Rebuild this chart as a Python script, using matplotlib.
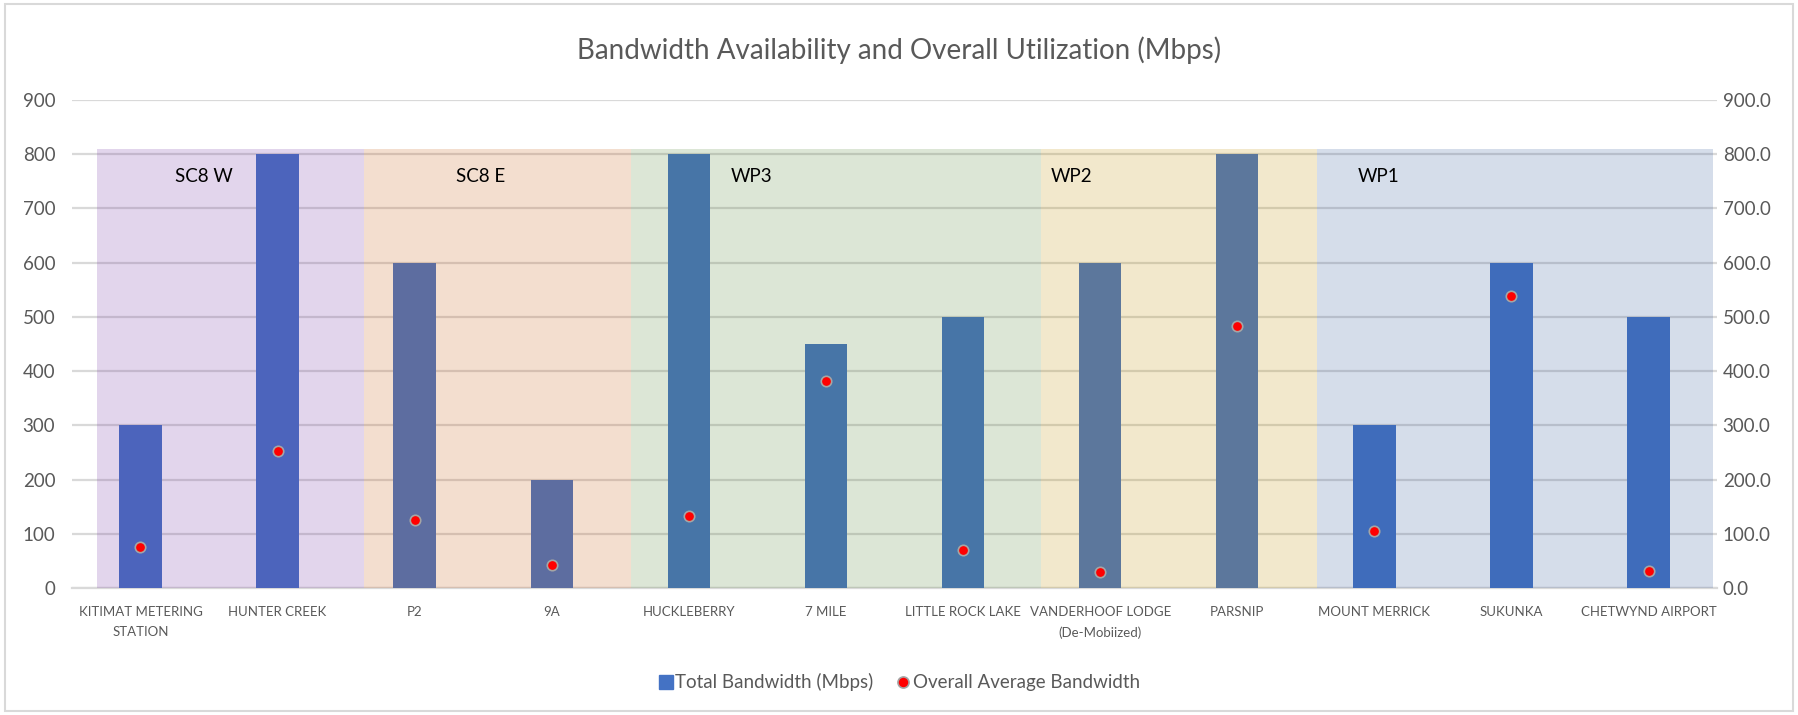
import matplotlib
matplotlib.use("Agg")
import matplotlib.pyplot as plt
from matplotlib.patches import Rectangle
from matplotlib.lines import Line2D

plt.rcParams['font.family'] = ['Lato', 'DejaVu Sans']

categories = ["KITIMAT METERING\nSTATION", "HUNTER CREEK", "P2", "9A", "HUCKLEBERRY",
              "7 MILE", "LITTLE ROCK LAKE", "VANDERHOOF LODGE\n(De-Mobiized)", "PARSNIP",
              "MOUNT MERRICK", "SUKUNKA", "CHETWYND AIRPORT"]
total_bandwidth = [300, 800, 600, 200, 800, 450, 500, 600, 800, 300, 600, 500]
avg_bandwidth = [75, 253, 125, 42, 133, 382, 70, 30, 484, 106, 539, 32]

group_names = ["SC8 W", "SC8 E", "WP3", "WP2", "WP1"]
group_starts = [-0.32, 1.63, 3.575, 6.57, 8.58]
group_ends = [1.63, 3.575, 6.57, 8.58, 11.47]
group_colors = ["#7030A0", "#C55A11", "#548235", "#BF8F00", "#2F5597"]
group_label_x = [0.46, 2.48, 4.46, 6.79, 9.03]
band_top = 809

fig = plt.figure(figsize=(17.98, 7.15), dpi=100)
ax = fig.add_axes([0.040, 0.1776, 0.915, 0.6826])
x = list(range(len(categories)))

ax.bar(x, total_bandwidth, width=0.31, color="#4472C4", zorder=2,
       label="Total Bandwidth (Mbps)")
for s, e, c in zip(group_starts, group_ends, group_colors):
    ax.add_patch(Rectangle((s, 0), e - s, band_top, facecolor=c, alpha=0.2,
                           edgecolor="none", zorder=3))
for name, lx in zip(group_names, group_label_x):
    ax.text(lx, 758, name, ha="center", va="center", fontsize=13.5,
            color="black", zorder=6)

ax.plot(x, avg_bandwidth, linestyle="none", marker="o", markersize=7.5,
        markerfacecolor="#FF0000", markeredgecolor="#A5A5A5", markeredgewidth=1.2,
        zorder=5, label="Overall Average Bandwidth")

ax.set_xlim(-0.5, 11.5)
ax.set_ylim(0, 900)
ax.set_yticks(range(0, 901, 100))
ax.yaxis.grid(True, color="#D9D9D9", linewidth=1.6, zorder=1)
ax.set_axisbelow(True)
for sp in ["top", "right", "left"]:
    ax.spines[sp].set_visible(False)
ax.spines["bottom"].set_color("#D9D9D9")
ax.spines["bottom"].set_linewidth(1.6)
ax.spines["bottom"].set_zorder(1)
ax.set_xticks(x)
ax.set_xticklabels(categories, fontsize=9.5, color="#595959", linespacing=1.75)
ax.tick_params(axis="x", length=0, pad=13)
ax.tick_params(axis="y", length=0, pad=12, labelsize=13.5, labelcolor="#595959")

ax2 = ax.twinx()
ax2.set_ylim(0, 900)
ax2.set_yticks(range(0, 901, 100))
ax2.set_yticklabels([f"{v:.1f}" for v in range(0, 901, 100)])
ax2.tick_params(axis="y", length=0, pad=4, labelsize=13.5, labelcolor="#595959")
for sp in ax2.spines.values():
    sp.set_visible(False)

fig.text(0.5, 0.93, "Bandwidth Availability and Overall Utilization (Mbps)",
         ha="center", va="center", fontsize=20, color="#595959")

handles = [
    Line2D([], [], linestyle="none", marker="s", markersize=10,
           markerfacecolor="#4472C4", markeredgecolor="#4472C4"),
    Line2D([], [], linestyle="none", marker="o", markersize=8,
           markerfacecolor="#FF0000", markeredgecolor="#A5A5A5", markeredgewidth=1.2),
]
fig.legend(handles, ["Total Bandwidth (Mbps)", "Overall Average Bandwidth"],
           loc="center", bbox_to_anchor=(0.5, 0.046), ncol=2, frameon=False,
           fontsize=13.5, labelcolor="#595959", handletextpad=0.1, columnspacing=1.2,
           handlelength=0.8)

fig.add_artist(Rectangle((0.003, 0.006), 0.994, 0.988, transform=fig.transFigure,
                         facecolor="none", edgecolor="#D9D9D9", linewidth=1.5))

fig.savefig("out.png", dpi=100)
